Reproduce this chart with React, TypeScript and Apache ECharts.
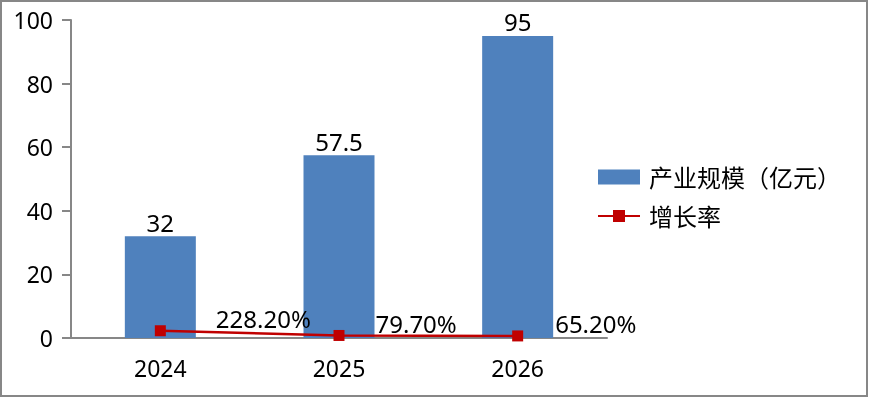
import React, { useEffect, useRef } from "react";
import * as echarts from "echarts";

const categories = ["2024", "2025", "2026"];
const scaleValues = [32, 57.5, 95];
const growthPercent = [228.2, 79.7, 65.2];
const labelDistances = [50, 31, 32];
const seriesNames = ["产业规模（亿元）", "增长率"];

const FONT = '"Noto Sans", "Noto Sans CJK SC", sans-serif';

export default function App() {
  const ref = useRef<HTMLDivElement>(null);
  useEffect(() => {
    document.body.style.margin = "0";
    const chart = echarts.init(ref.current!, null, { renderer: "svg" });
    chart.setOption({
      animation: false,
      textStyle: { fontFamily: FONT },
      graphic: [
        {
          type: "rect",
          shape: { x: 1, y: 1, width: 866, height: 395 },
          style: { fill: "none", stroke: "#878787", lineWidth: 2 },
          silent: true,
        },
      ],
      grid: { left: 71, right: 262, top: 20, bottom: 60 },
      legend: {
        orient: "vertical",
        left: 597,
        top: 164,
        padding: 0,
        itemWidth: 42,
        itemHeight: 15,
        itemGap: 13,
        textStyle: { fontSize: 24, color: "#000", fontFamily: FONT, lineHeight: 26, padding: [0, 0, 0, 4] },
        data: [
          { name: seriesNames[0], icon: "rect" },
          { name: seriesNames[1] },
        ],
      },
      xAxis: {
        type: "category",
        data: categories,
        axisLine: { lineStyle: { color: "#878787", width: 2 } },
        axisTick: { length: 9, lineStyle: { color: "#878787", width: 2 } },
        axisLabel: { fontSize: 23, color: "#000", margin: 18, fontFamily: FONT },
      },
      yAxis: {
        type: "value",
        min: 0,
        max: 100,
        interval: 20,
        splitLine: { show: false },
        axisLine: { show: true, lineStyle: { color: "#878787", width: 2 } },
        axisTick: { show: true, length: 9, lineStyle: { color: "#878787", width: 2 } },
        axisLabel: { fontSize: 23, color: "#000", margin: 18, fontFamily: FONT },
      },
      series: [
        {
          name: seriesNames[0],
          type: "bar",
          barWidth: 71,
          data: scaleValues,
          itemStyle: { color: "#4F81BD" },
          label: {
            show: true,
            position: "top",
            distance: 2,
            fontSize: 24,
            color: "#000",
            fontFamily: FONT,
          },
        },
        {
          name: seriesNames[1],
          type: "line",
          data: growthPercent.map((v, i) => ({
            value: v / 100,
            label: { distance: labelDistances[i] },
          })),
          symbol: "rect",
          symbolSize: 11,
          lineStyle: { color: "#C00000", width: 2.5 },
          itemStyle: { color: "#C00000" },
          label: {
            show: true,
            position: "right",
            offset: [0, -12],
            fontSize: 24,
            color: "#000",
            fontFamily: FONT,
            formatter: (p: any) => (p.value * 100).toFixed(2) + "%",
          },
          z: 5,
        },
      ],
    });
    return () => chart.dispose();
  }, []);
  return (
    <div
      ref={ref}
      style={{ position: "fixed", left: 0, top: 0, width: 869, height: 398 }}
    />
  );
}
